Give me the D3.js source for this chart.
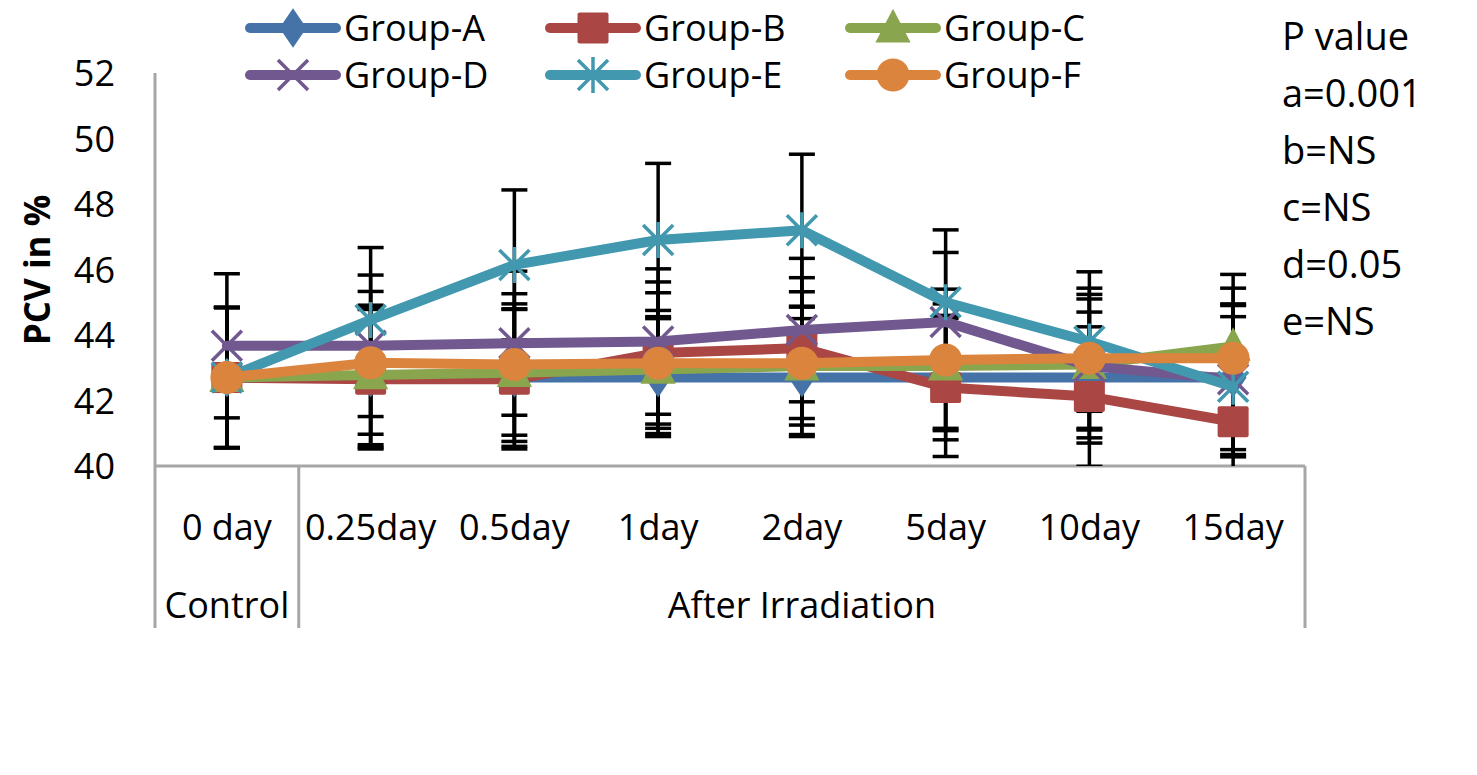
<!DOCTYPE html>
<html><head><meta charset="utf-8">
<script src="https://cdn.jsdelivr.net/npm/d3@7"></script>
<style>body{margin:0;background:#fff;} text{font-family:"Open Sans","Noto Sans",sans-serif;}</style>
</head><body>
<svg id="c" width="1477" height="775"></svg>
<script>
const categories = ["0 day","0.25day","0.5day","1day","2day","5day","10day","15day"];
const groupLabels = ["Control","After Irradiation"];
const yTicks = [40,42,44,46,48,50,52];
const seriesNames = ["Group-A","Group-B","Group-C","Group-D","Group-E","Group-F"];
const groupA = [42.7,42.7,42.7,42.7,42.7,42.7,42.7,42.7];
const groupB = [42.7,42.65,42.65,43.45,43.6,42.4,42.12,41.35];
const groupC = [42.7,42.78,42.85,42.95,43.05,43.05,43.1,43.65];
const groupD = [43.67,43.67,43.75,43.8,44.15,44.4,43.05,42.65];
const groupE = [42.7,44.46,46.14,46.9,47.2,45.0,43.8,42.42];
const groupF = [42.7,43.15,43.1,43.14,43.14,43.24,43.29,43.29];
const errA = [2.14,2.13,2.1,1.8,1.8,1.9,2.0,2.2];
const errB = [2.14,2.13,2.13,2.17,2.15,2.11,2.13,2.15];
const errC = [2.14,2.13,2.1,1.8,1.8,1.9,2.0,2.2];
const errD = [2.2,2.16,2.2,2.22,2.19,2.12,2.19,2.3];
const errE = [2.14,2.21,2.29,2.34,2.32,2.21,2.13,2.14];
const errF = [2.14,2.18,2.16,2.15,2.18,2.16,2.14,2.14];
const pValues = ["P value","a=0.001","b=NS","c=NS","d=0.05","e=NS"];

const colors = ["#4572A7","#AA4643","#89A54E","#71588F","#4198AF","#DB843D"];
const shapes = ["diamond","square","triangle","x","star","circle"];
const values = [groupA,groupB,groupC,groupD,groupE,groupF];
const errors = [errA,errB,errC,errD,errE,errF];

const svg = d3.select("#c");
const L=155, R=1305, T=73, B=466;
const x = d3.scaleBand().domain(categories).range([L,R]);
const cx = c => x(c)+x.bandwidth()/2;
const y = d3.scaleLinear().domain([40,52]).range([B,T]);

// axes
const axisColor="#A6A6A6";
const ya = svg.append("g").attr("transform",`translate(${L},0)`)
  .call(d3.axisLeft(y).tickValues(yTicks).tickSize(0).tickPadding(40));
ya.select(".domain").remove();
ya.selectAll("text").style("font-size","36px").style("fill","#000").attr("dy","0.36em");
svg.append("line").attr("x1",L).attr("x2",L).attr("y1",T).attr("y2",628).attr("stroke",axisColor).attr("stroke-width",3);
svg.append("line").attr("x1",L).attr("x2",R).attr("y1",B).attr("y2",B).attr("stroke",axisColor).attr("stroke-width",3);
const divX = x(categories[1]);
[divX, R].forEach(v=>svg.append("line").attr("x1",v).attr("x2",v).attr("y1",B).attr("y2",628).attr("stroke",axisColor).attr("stroke-width",3));

svg.append("g").selectAll("text").data(categories).join("text")
  .attr("x",d=>cx(d)).attr("y",540).attr("text-anchor","middle")
  .style("font-size","36px").text(d=>d);
svg.append("text").attr("x",(L+divX)/2).attr("y",618).attr("text-anchor","middle").style("font-size","36px").text(groupLabels[0]);
svg.append("text").attr("x",(divX+R)/2).attr("y",618).attr("text-anchor","middle").style("font-size","36px").text(groupLabels[1]);

svg.append("text").attr("transform","translate(50,270) rotate(-90)").attr("text-anchor","middle")
  .style("font-size","35px").style("font-weight","bold").text("PCV in %");

// clip
svg.append("clipPath").attr("id","pc").append("rect").attr("x",L).attr("y",T).attr("width",R-L).attr("height",B-T);
const plot = svg.append("g").attr("clip-path","url(#pc)");

// error bars
values.forEach((vals,si)=>{
  const g = plot.append("g");
  vals.forEach((v,i)=>{
    const xx = cx(categories[i]), e = errors[si][i];
    g.append("line").attr("x1",xx).attr("x2",xx).attr("y1",y(v+e)).attr("y2",y(v-e)).attr("stroke","#000").attr("stroke-width",3.5);
    [v+e,v-e].forEach(w=>g.append("line").attr("x1",xx-13).attr("x2",xx+13).attr("y1",y(w)).attr("y2",y(w)).attr("stroke","#000").attr("stroke-width",3.5));
  });
});

function marker(g, shape, color, px, py, s){
  if(shape==="diamond") g.append("path").attr("d",`M${px},${py-s*0.62}L${px+s*0.42},${py}L${px},${py+s*0.62}L${px-s*0.42},${py}Z`).attr("fill",color);
  else if(shape==="square") g.append("rect").attr("x",px-s/2).attr("y",py-s/2).attr("width",s).attr("height",s).attr("rx",2).attr("fill",color);
  else if(shape==="triangle") g.append("path").attr("d",`M${px},${py-s*0.6}L${px+s*0.55},${py+s*0.45}L${px-s*0.55},${py+s*0.45}Z`).attr("fill",color);
  else if(shape==="circle") g.append("circle").attr("cx",px).attr("cy",py).attr("r",s/2).attr("fill",color);
  else if(shape==="x"){
    const h=s*0.5;
    g.append("path").attr("d",`M${px-h},${py-h}L${px+h},${py+h}M${px+h},${py-h}L${px-h},${py+h}`).attr("stroke",color).attr("stroke-width",3.5);
  } else if(shape==="star"){
    const h=s*0.5;
    g.append("path").attr("d",`M${px-h},${py-h}L${px+h},${py+h}M${px+h},${py-h}L${px-h},${py+h}M${px},${py-h*1.2}L${px},${py+h*1.2}`).attr("stroke",color).attr("stroke-width",3.5);
  }
}
const msize=[32,31,32,30,30,33];
const line = d3.line().x((d,i)=>cx(categories[i])).y(d=>y(d));
values.forEach((vals,si)=>{
  const g = svg.append("g");
  g.append("path").attr("d",line(vals)).attr("fill","none").attr("stroke",colors[si]).attr("stroke-width",10).attr("stroke-linejoin","round").attr("stroke-linecap","round");
  vals.forEach((v,i)=>marker(g,shapes[si],colors[si],cx(categories[i]),y(v),msize[si]));
});

// legend
const legX=[250,550,850], legY=[28,75];
seriesNames.forEach((n,i)=>{
  const lx=legX[i%3], ly=legY[Math.floor(i/3)];
  const g=svg.append("g");
  g.append("line").attr("x1",lx).attr("x2",lx+86).attr("y1",ly).attr("y2",ly).attr("stroke",colors[i]).attr("stroke-width",10).attr("stroke-linecap","round");
  marker(g,shapes[i],colors[i],lx+43,ly,msize[i]);
  g.append("text").attr("x",lx+94).attr("y",ly+13).style("font-size","36px").text(n);
});

// p values
svg.append("g").selectAll("text").data(pValues).join("text")
  .attr("x",1282).attr("y",(d,i)=>50+i*57).style("font-size","38px").text(d=>d);
</script>
</body></html>
